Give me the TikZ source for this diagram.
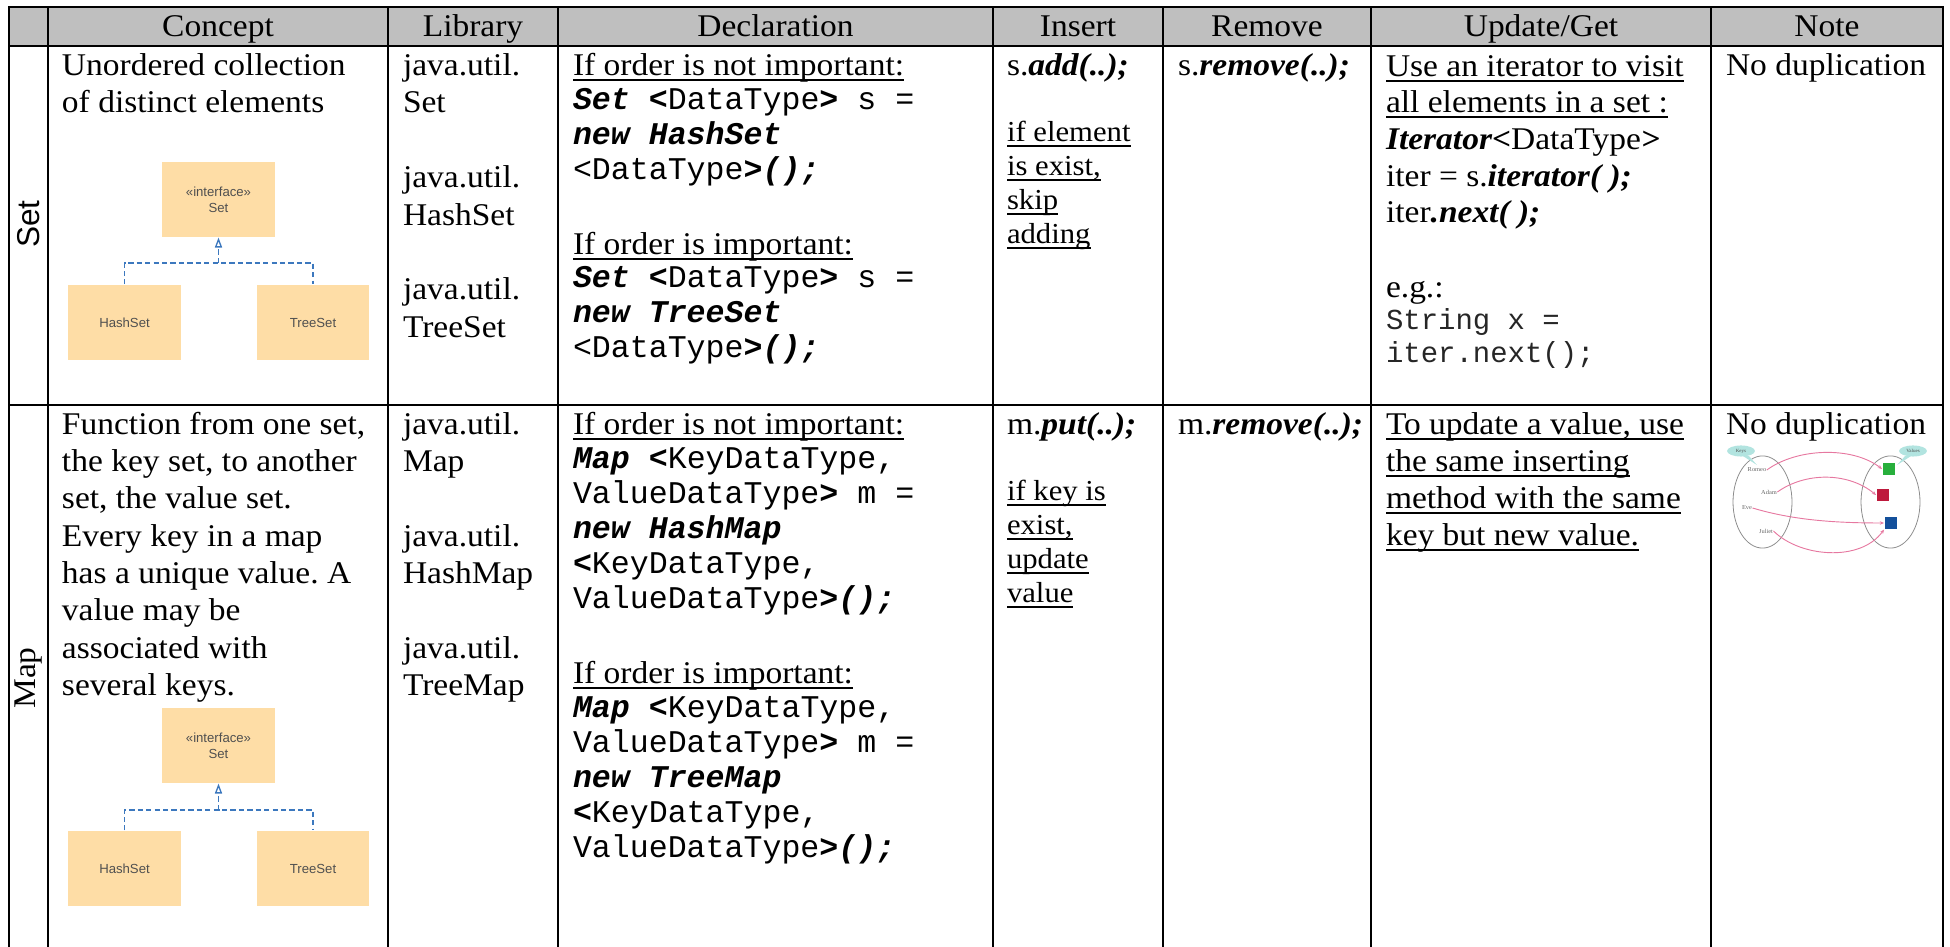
\documentclass[tikz,border=0pt]{standalone}
\usepackage{fontspec}
\setmainfont{Liberation Serif}[FakeStretch=1.06]
\setsansfont{Liberation Sans}
\setmonofont{Liberation Mono}
\usetikzlibrary{arrows.meta,shapes.geometric}
\frenchspacing

\definecolor{hdrgray}{RGB}{191,191,191}
\definecolor{umlfill}{RGB}{254,221,166}
\definecolor{umlblue}{RGB}{60,120,190}
\definecolor{umltext}{RGB}{80,80,80}
\definecolor{tagfill}{RGB}{178,228,224}
\definecolor{setgray}{RGB}{140,140,140}
\definecolor{linkpink}{RGB}{230,120,160}
\definecolor{sqgreen}{RGB}{40,175,60}
\definecolor{sqred}{RGB}{190,25,60}
\definecolor{sqblue}{RGB}{20,80,155}

% helpers for one line of cell text, optionally underlined
\newcommand{\bfit}[1]{\textbf{\textit{#1}}}
\newcommand{\mono}{\ttfamily}
\newcommand{\smallmono}{\ttfamily\fontsize{11}{13}\selectfont\color{black!85}}
\newcommand{\elf}{\fontsize{11}{13}\selectfont}
\newcommand{\tline}[4]{\node[txt] (#1) at (#2,#3) {#4};}
\newcommand{\ulline}[4]{\node[txt] (#1) at (#2,#3) {#4};
  \draw[ulrule] ([yshift=-1.5pt]#1.base west) -- ([yshift=-1.5pt]#1.base east);}

\begin{document}
\begin{tikzpicture}[
  x=0.3798pt, y=-0.3798pt,
  txt/.style={anchor=base west, inner sep=0pt, outer sep=0pt, font=\fontsize{12}{14}\selectfont},
  hdr/.style={anchor=base, inner sep=0pt, outer sep=0pt, font=\fontsize{12}{14}\selectfont},
  ulrule/.style={line width=0.55pt},
  grid/.style={line width=0.9pt},
  umlbox/.style={fill=umlfill, minimum width=42.9pt, minimum height=28.5pt, inner sep=0pt,
    align=center, text=umltext, font=\sffamily\fontsize{5}{6}\selectfont},
  umllink/.style={umlblue, line width=0.5pt, dash pattern=on 2pt off 1.2pt},
  keyring/.style={ellipse, draw=setgray, line width=0.3pt, minimum width=22.4pt,
    minimum height=35pt, inner sep=0pt},
  tag/.style={ellipse, fill=tagfill, minimum width=10.6pt, minimum height=4.2pt, inner sep=0pt,
    font=\fontsize{1.8}{2}\selectfont, text=black!70},
  kname/.style={inner sep=0pt, font=\fontsize{2.3}{3}\selectfont, text=black!60},
  vsq/.style={minimum width=4.9pt, minimum height=4.6pt, inner sep=0pt},
  maplink/.style={linkpink, line width=0.35pt, -{Stealth[length=1.6pt,width=1.3pt]}}
]
\useasboundingbox (0,0) rectangle (1950,947);

% ---------- table frame ----------
\fill[hdrgray] (9,7) rectangle (1943,46);
\draw[grid] (9,947) -- (9,7) -- (1943,7) -- (1943,947);
\draw[grid] (9,46) -- (1943,46);
\draw[grid] (9,405) -- (1943,405);
\foreach \cx in {48,388,558,993,1163,1371,1711}
  \draw[grid] (\cx,7) -- (\cx,947);

% ---------- header ----------
\node[hdr] (hConcept) at (218,37) {Concept};
\node[hdr] (hLibrary) at (473,37) {Library};
\node[hdr] (hDecl) at (775.5,37) {Declaration};
\node[hdr] (hInsert) at (1078,37) {Insert};
\node[hdr] (hRemove) at (1267,37) {Remove};
\node[hdr] (hUpdate) at (1541,37) {Update/Get};
\node[hdr] (hNote) at (1827,37) {Note};

% ---------- row labels ----------
\node[rotate=90, inner sep=0pt, font=\sffamily\fontsize{12}{14}\selectfont] (rowSet) at (29,224) {Set};
\node[rotate=90, inner sep=0pt, font=\fontsize{12}{14}\selectfont] (rowMap) at (29,678) {Map};

% ---------- Set row ----------
\tline{csA}{62}{76}{Unordered collection}
\tline{csB}{62}{113}{of distinct elements}

\node[umlbox] (sIface) at (218.5,199.5) {«interface»\\Set};
\node[umlbox] (sHash) at (124.5,322.5) {HashSet};
\node[umlbox] (sTree) at (313,322.5) {TreeSet};
\coordinate (sJoin) at (218.5,263);
\draw[umllink] (sHash.north) |- (sJoin) -| (sTree.north);
\draw[umllink, -{Triangle[open, length=3.8pt, width=2.7pt]}] (sJoin) -- (sIface.south);

\tline{lsA}{403}{76}{java.util.}
\tline{lsB}{403}{113}{Set}
\tline{lsC}{403}{188}{java.util.}
\tline{lsD}{403}{226}{HashSet}
\tline{lsE}{403}{300}{java.util.}
\tline{lsF}{403}{338}{TreeSet}

\ulline{dsA}{573}{76}{If order is not important:}
\tline{dsB}{573}{110}{\mono\bfit{Set} \textbf{<}DataType\textbf{>} s =}
\tline{dsC}{573}{145}{\mono\bfit{new HashSet}}
\tline{dsD}{573}{180}{\mono <DataType\textbf{>}\bfit{();}}
\ulline{dsE}{573}{255}{If order is important:}
\tline{dsF}{573}{288}{\mono\bfit{Set} \textbf{<}DataType\textbf{>} s =}
\tline{dsG}{573}{323}{\mono\bfit{new TreeSet}}
\tline{dsH}{573}{358}{\mono <DataType\textbf{>}\bfit{();}}

\tline{isA}{1007}{76}{s.\bfit{add(..);}}
\ulline{isB}{1007}{142}{\elf if element}
\ulline{isC}{1007}{176}{\elf is exist,}
\ulline{isD}{1007}{210}{\elf skip}
\ulline{isE}{1007}{244}{\elf adding}

\tline{rsA}{1178}{76}{s.\bfit{remove(..);}}

\ulline{usA}{1386}{77}{Use an iterator to visit}
\ulline{usB}{1386}{113}{all elements in a set :}
\tline{usC}{1386}{150}{\bfit{Iterator<}DataType\bfit{>}}
\tline{usD}{1386}{187}{iter = s.\bfit{iterator( );}}
\tline{usE}{1386}{223}{iter\bfit{.next( );}}
\tline{usF}{1386}{298}{e.g.:}
\tline{usG}{1386}{330}{\smallmono String x =}
\tline{usH}{1386}{363}{\smallmono iter.next();}

\tline{nsA}{1726}{76}{No duplication}

% ---------- Map row ----------
\tline{cmA}{62}{435}{Function from one set,}
\tline{cmB}{62}{472}{the key set, to another}
\tline{cmC}{62}{509}{set, the value set.}
\tline{cmD}{62}{547}{Every key in a map}
\tline{cmE}{62}{584}{has a unique value. A}
\tline{cmF}{62}{621}{value may be}
\tline{cmG}{62}{659}{associated with}
\tline{cmH}{62}{696}{several keys.}

\node[umlbox] (mIface) at (218.5,745.5) {«interface»\\Set};
\node[umlbox] (mHash) at (124.5,868.5) {HashSet};
\node[umlbox] (mTree) at (313,868.5) {TreeSet};
\coordinate (mJoin) at (218.5,810);
\draw[umllink] (mHash.north) |- (mJoin) -| (mTree.north);
\draw[umllink, -{Triangle[open, length=3.8pt, width=2.7pt]}] (mJoin) -- (mIface.south);

\tline{lmA}{403}{435}{java.util.}
\tline{lmB}{403}{472}{Map}
\tline{lmC}{403}{547}{java.util.}
\tline{lmD}{403}{584}{HashMap}
\tline{lmE}{403}{659}{java.util.}
\tline{lmF}{403}{696}{TreeMap}

\ulline{dmA}{573}{435}{If order is not important:}
\tline{dmB}{573}{469}{\mono\bfit{Map} \textbf{<}KeyDataType,}
\tline{dmC}{573}{504}{\mono ValueDataType\textbf{>} m =}
\tline{dmD}{573}{539}{\mono\bfit{new HashMap}}
\tline{dmE}{573}{574}{\mono\textbf{<}KeyDataType,}
\tline{dmF}{573}{609}{\mono ValueDataType\textbf{>}\bfit{();}}
\ulline{dmG}{573}{684}{If order is important:}
\tline{dmH}{573}{718}{\mono\bfit{Map} \textbf{<}KeyDataType,}
\tline{dmI}{573}{753}{\mono ValueDataType\textbf{>} m =}
\tline{dmJ}{573}{788}{\mono\bfit{new TreeMap}}
\tline{dmK}{573}{823}{\mono\textbf{<}KeyDataType,}
\tline{dmL}{573}{858}{\mono ValueDataType\textbf{>}\bfit{();}}

\tline{imA}{1007}{435}{m.\bfit{put(..);}}
\ulline{imB}{1007}{501}{\elf if key is}
\ulline{imC}{1007}{535}{\elf exist,}
\ulline{imD}{1007}{569}{\elf update}
\ulline{imE}{1007}{603}{\elf value}

\tline{rmA}{1178}{435}{m.\bfit{remove(..);}}

\ulline{umA}{1386}{435}{To update a value, use}
\ulline{umB}{1386}{472}{the same inserting}
\ulline{umC}{1386}{509}{method with the same}
\ulline{umD}{1386}{546}{key but new value.}

\tline{nmA}{1726}{435}{No duplication}

% ---------- keys / values sketch ----------
\node[keyring] (keyset) at (1762.5,502) {};
\node[keyring] (valset) at (1890.5,502) {};
\node[tag] (keystag) at (1741,451) {Keys};
\node[tag] (valstag) at (1913,451) {Values};
\fill[tagfill] (keystag.south) ++(2,-1) -- ++(6,0) -- ++(8,9) -- cycle;
\fill[tagfill] (valstag.south) ++(-2,-1) -- ++(-6,0) -- ++(-8,9) -- cycle;

\node[kname] (romeo) at (1757,470) {Romeo};
\node[kname] (adam) at (1769,492) {Adam};
\node[kname] (eve) at (1747,508) {Eve};
\node[kname] (juliet) at (1766,531) {Juliet};

\node[vsq, fill=sqgreen] (vgreen) at (1889,469) {};
\node[vsq, fill=sqred] (vred) at (1883,495) {};
\node[vsq, fill=sqblue] (vblue) at (1891,523) {};

\draw[maplink] (romeo.east) .. controls +(30,-22) and +(-30,-23) .. (vgreen.west);
\draw[maplink] (adam.east) .. controls +(28,-20) and +(-28,-23) .. (vred.west);
\draw[maplink] (eve.east) .. controls +(40,12) and +(-50,0) .. (vblue.west);
\draw[maplink] (juliet.east) .. controls +(26,26) and +(-24,33) .. (vblue.south west);

\end{tikzpicture}
\end{document}
